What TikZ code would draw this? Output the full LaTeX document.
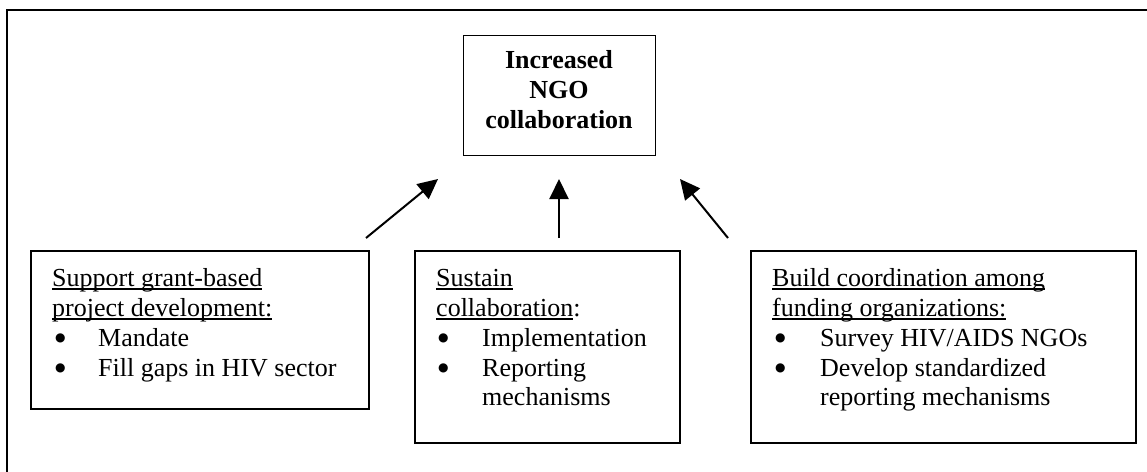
\documentclass[tikz,border=0pt]{standalone}
\usepackage{fontspec}
\setmainfont{Liberation Serif}
\newfontfamily\dvs{DejaVu Sans}
\usetikzlibrary{arrows.meta}
\newcommand\ulx[1]{{\setbox0\hbox{#1}\rlap{\rule[-4pt]{\wd0}{1.8pt}}\box0}}
\begin{document}
\begin{tikzpicture}[x=1pt,y=-1pt,
  txt/.style={anchor=base west,inner sep=0pt,font=\fontsize{26}{30}\selectfont},
  blt/.style={anchor=base west,inner sep=0pt,font=\fontsize{12}{14}\dvs},
  ttl/.style={anchor=base,inner sep=0pt,font=\fontsize{26}{30}\selectfont\bfseries},
  bx/.style={draw,line width=2pt,anchor=north west,inner sep=0pt},
  topbx/.style={draw,line width=1.2pt,anchor=north west,inner sep=0pt},
  arr/.style={line width=2pt,-{Triangle[length=20pt,width=19pt]}}]
\useasboundingbox (0,0) rectangle (1147,471);
\begin{scope}
\clip (0,0) rectangle (1147,471);
\draw[line width=2.5pt] (7,10) rectangle (1170,490);
\end{scope}
% boxes
\node[topbx,minimum width=192pt,minimum height=120pt] (top) at (463,35) {};
\node[bx,minimum width=338pt,minimum height=158pt] (lbox) at (30,250) {};
\node[bx,minimum width=265pt,minimum height=192pt] (mbox) at (414,250) {};
\node[bx,minimum width=385pt,minimum height=192pt] (rbox) at (750,250) {};
% title
\node[ttl] (t1) at (559,68) {Increased};
\node[ttl] (t2) at (559,98) {NGO};
\node[ttl] (t3) at (559,128) {collaboration};
% left box text
\node[txt] (l1) at (52,286) {\ulx{Support grant-based}};
\node[txt] (l2) at (52,316) {\ulx{project development:}};
\node[blt] (lb1) at (55,341) {●};
\node[txt] (l3) at (98,346) {Mandate};
\node[blt] (lb2) at (55,371) {●};
\node[txt] (l4) at (98,376) {Fill gaps in HIV sector};
% middle box text
\node[txt] (m1) at (436,286) {\ulx{Sustain}};
\node[txt] (m2) at (436,316) {\ulx{collaboration}:};
\node[blt] (mb1) at (438,341) {●};
\node[txt] (m3) at (482,346) {Implementation};
\node[blt] (mb2) at (438,371) {●};
\node[txt] (m4) at (482,376) {Reporting};
\node[txt] (m5) at (482,405) {mechanisms};
% right box text
\node[txt] (r1) at (772,286) {\ulx{Build coordination among}};
\node[txt] (r2) at (772,316) {\ulx{funding organizations:}};
\node[blt] (rb1) at (775,341) {●};
\node[txt] (r3) at (820,346) {Survey HIV/AIDS NGOs};
\node[blt] (rb2) at (775,371) {●};
\node[txt] (r4) at (820,376) {Develop standardized};
\node[txt] (r5) at (820,405) {reporting mechanisms};
% arrows
\coordinate (a1s) at (366,238); \coordinate (a1e) at (438,179);
\coordinate (a2s) at (559,238); \coordinate (a2e) at (559,179);
\coordinate (a3s) at (728,238); \coordinate (a3e) at (680,179);
\draw[arr] (a1s) -- (a1e);
\draw[arr] (a2s) -- (a2e);
\draw[arr] (a3s) -- (a3e);
\end{tikzpicture}
\end{document}
